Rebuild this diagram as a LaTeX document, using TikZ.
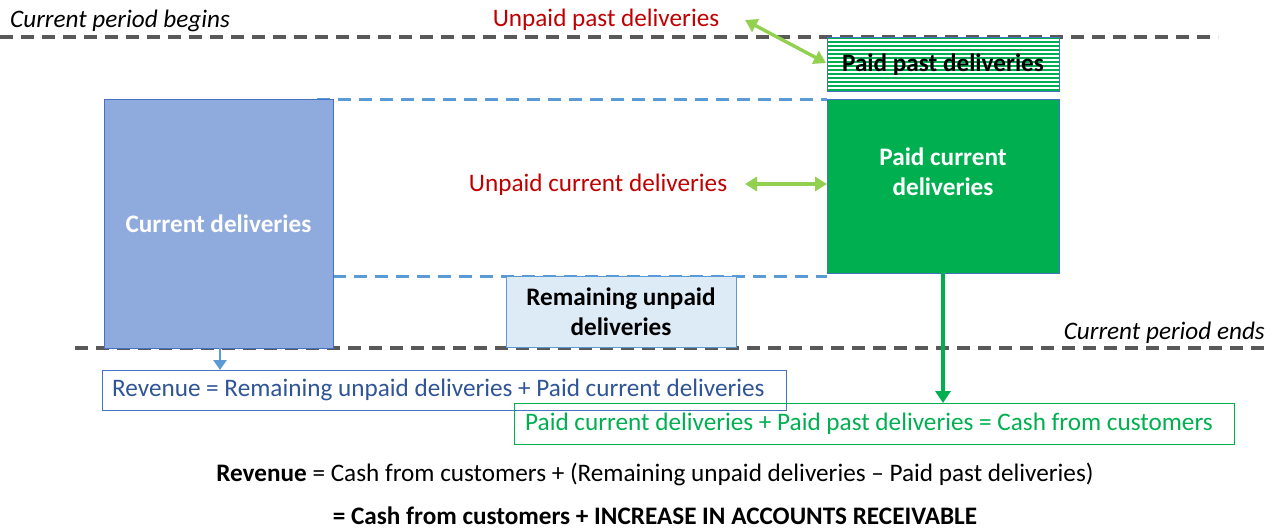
\documentclass[tikz,border=0pt]{standalone}
\usepackage{fontspec}
\setmainfont{Carlito}
\usetikzlibrary{arrows.meta}
\definecolor{periodgray}{HTML}{595959}
\definecolor{delivblue}{HTML}{8FAADC}
\definecolor{delivedge}{HTML}{4472C4}
\definecolor{dashblue}{HTML}{5B9BD5}
\definecolor{paidgreen}{HTML}{00B050}
\definecolor{arrowgreen}{HTML}{92D050}
\definecolor{unpaidred}{HTML}{C00000}
\definecolor{remainfill}{HTML}{DDEBF7}
\definecolor{revtext}{HTML}{2F5597}
\newcommand\txtsize{\fontsize{25.2}{30}\selectfont}
\tikzset{
  txt/.style={font=\txtsize, inner sep=0pt, align=center},
  period/.style={draw=periodgray, line width=3.6pt, dash pattern=on 13pt off 8pt},
  blueline/.style={draw=dashblue, line width=3pt, dash pattern=on 13pt off 8pt},
  dblarrow/.style={draw=arrowgreen, line width=3.4pt, {Triangle[length=12pt,width=14pt]}-{Triangle[length=12pt,width=14pt]}},
}
\begin{document}
\begin{tikzpicture}[x=1pt,y=-1pt]
\useasboundingbox (0,0) rectangle (1278,530);

% period boundaries
\draw[period] (0,37) -- (1218,37);
\draw[period] (75,348) -- (1265,348);
\node[txt, anchor=west, font=\txtsize\itshape] (begins) at (10,21) {Current period begins};
\node[txt, anchor=east, font=\txtsize\itshape] (ends) at (1265,333) {Current period ends};

% dashed guides of the current deliveries
\draw[blueline] (317,99) -- (827,99);
\draw[blueline] (333,276) -- (827,276);

% current deliveries
\node[draw=delivedge, line width=1pt, fill=delivblue, minimum width=229pt, minimum height=249pt, inner sep=0pt] (cur) at (218.5,223.5) {};
\node[txt, text=white, font=\txtsize\bfseries] (curlbl) at (cur.center) {Current deliveries};

% paid current deliveries
\node[draw=delivedge, line width=1pt, fill=paidgreen, minimum width=232pt, minimum height=174pt, inner sep=0pt] (paidcur) at (943,186) {};
\node[txt, text=white, font=\txtsize\bfseries] (paidcurlbl) at (943,172) {Paid current\\deliveries};

% paid past deliveries (striped)
\fill[paidgreen] (827,37) rectangle (1059,91);
\foreach \yy in {40,44,...,88} {
  \draw[white, line width=1.4pt] (827,\yy) -- (1059,\yy);
}
\node[draw=delivedge, line width=1pt, minimum width=232pt, minimum height=54pt, inner sep=0pt] (paidpast) at (943,64) {};
\node[txt, font=\txtsize\bfseries] (paidpastlbl) at (943,65) {Paid past deliveries};

% remaining unpaid deliveries
\node[draw=dashblue, line width=1pt, fill=remainfill, minimum width=230pt, minimum height=71pt, inner sep=0pt] (remain) at (621,312) {};
\node[txt, font=\txtsize\bfseries] (remainlbl) at (621,312) {Remaining unpaid\\deliveries};

% unpaid labels with arrows
\node[txt, text=unpaidred] (unpast) at (606,20) {Unpaid past deliveries};
\node[txt, text=unpaidred] (uncur) at (598,185) {Unpaid current deliveries};
\coordinate (upa) at (745,20);
\coordinate (upb) at (826,63);
\draw[dblarrow] (upa) -- (upb);
\coordinate (uca) at (745,184);
\coordinate (ucb) at (827,184);
\draw[dblarrow] (uca) -- (ucb);

% revenue box
\node[draw=delivedge, line width=1pt, minimum width=684pt, minimum height=40pt, inner sep=0pt] (rev) at (444,390) {};
\node[txt, text=revtext, anchor=west] (revlbl) at (112,390) {Revenue = Remaining unpaid deliveries + Paid current deliveries};
\coordinate (revtop) at (220,370);
\draw[draw=dashblue, line width=2.6pt, -{Triangle[length=10pt,width=13pt]}] (220,348) -- (revtop);

% cash box
\node[draw=paidgreen, line width=1pt, minimum width=720pt, minimum height=41pt, inner sep=0pt] (cash) at (874,423.5) {};
\node[txt, text=paidgreen, anchor=west] (cashlbl) at (525,423.5) {Paid current deliveries + Paid past deliveries = Cash from customers};
\coordinate (cashtop) at (943,403);
\draw[draw=paidgreen, line width=3.4pt, -{Triangle[length=12pt,width=15pt]}] (943,273) -- (cashtop);

% summary
\node[txt] (sum1) at (655,474) {\textbf{Revenue} = Cash from customers + (Remaining unpaid deliveries – Paid past deliveries)};
\node[txt, font=\txtsize\bfseries] (sum2) at (655,516) {= Cash from customers + INCREASE IN ACCOUNTS RECEIVABLE};
\end{tikzpicture}
\end{document}
